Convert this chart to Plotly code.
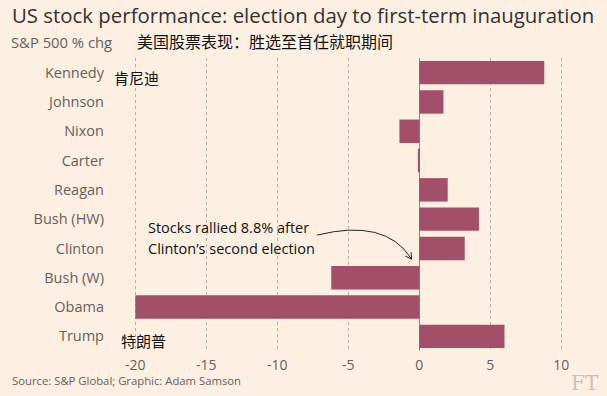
import plotly.graph_objects as go

presidents = ["Kennedy", "Johnson", "Nixon", "Carter", "Reagan",
              "Bush (HW)", "Clinton", "Bush (W)", "Obama", "Trump"]
pct_change = [8.8, 1.7, -1.4, -0.1, 2.0, 4.2, 3.2, -6.2, -20.0, 6.0]
x_ticks = [-20, -15, -10, -5, 0, 5, 10]

BG = "#FDF0E3"
BAR = "#A44F69"
TXT = "#33302E"
GREY = "#66605C"

W, H = 607, 396
# plot area in picture pixels
PL, PR, PT, PB = 130, 600, 58.1, 350.7
L, T = PL, PT
PW, PH = PR - PL, PB - PT
R, B = W - L - PW, H - T - PH


def px(x):
    return (x - PL) / PW


def py(y):
    return (PB - y) / PH


fig = go.Figure()
fig.add_trace(go.Bar(
    x=pct_change, y=presidents, orientation="h",
    marker=dict(color=BAR, line=dict(width=0)),
    width=0.8, hoverinfo="x+y",
))

fig.update_layout(
    width=W, height=H,
    margin=dict(l=L, r=R, t=T, b=B, pad=0, autoexpand=False),
    paper_bgcolor=BG, plot_bgcolor=BG,
    showlegend=False,
    font=dict(family="Open Sans, sans-serif", color=TXT),
)

zero_px, unit_px = 419.3, 14.2
x0 = (PL - zero_px) / unit_px
x1 = (PR - zero_px) / unit_px
fig.update_xaxes(
    range=[x0, x1], tickvals=x_ticks, ticktext=[str(v) for v in x_ticks],
    showgrid=True, gridcolor="#B9AEA6", griddash="dot", gridwidth=1,
    zeroline=True, zerolinecolor="#8E8682", zerolinewidth=1,
    tickfont=dict(size=14, color=GREY, family="Open Sans, sans-serif"),
    ticks="", ticklabelstandoff=4, showline=False, automargin=False,
)
fig.update_yaxes(
    categoryorder="array", categoryarray=presidents, autorange="reversed",
    showgrid=False, zeroline=False, showline=False, ticks="",
    tickfont=dict(size=14.5, color=GREY, family="Open Sans, sans-serif"),
    ticklabelstandoff=25, automargin=False,
)


def note(text, x, y, size, color, family, anchor="left"):
    fig.add_annotation(text=text, xref="paper", yref="paper", x=px(x), y=py(y),
                       xanchor=anchor, yanchor="middle", showarrow=False, borderpad=0,
                       font=dict(size=size, color=color, family=family))


SANS = "Open Sans, sans-serif"
CJK = "Noto Sans CJK SC"
note("US stock performance: election day to first-term inauguration", 11, 15.5, 20.4, TXT, SANS)
note("S&P 500 % chg", 10, 42, 14.8, GREY, SANS)
note("美国股票表现：胜选至首任就职期间", 136, 41, 16, "#111111", CJK)
note("肯尼迪", 113, 78, 15, "#111111", CJK)
note("特朗普", 120, 340, 15, "#111111", CJK)

# Callout
note("Stocks rallied 8.8% after", 147, 227, 14.5, "#111111", SANS)
note("Clinton’s second election", 147, 248, 14.5, "#111111", SANS)
p = lambda a, b: f"{px(a)},{py(b)}"
fig.add_shape(type="path", xref="paper", yref="paper",
              path=f"M {p(317, 235)} Q {p(385, 218)} {p(411, 258)}",
              line=dict(color="#222222", width=1))
fig.add_shape(type="path", xref="paper", yref="paper",
              path=f"M {p(405.3, 255.9)} L {p(411.5, 259)} L {p(411.1, 252.1)}",
              line=dict(color="#222222", width=1))

# Source and logo
note("Source: S&P Global; Graphic: Adam Samson", 11, 380, 11.3, GREY, SANS)
note("FT", 600, 383, 20, "#C9C0B9", "DejaVu Serif", anchor="right")

fig.write_html("out.html",
               config={"displayModeBar": False},
               post_script="document.body.style.margin='0';document.body.style.padding='0';")
